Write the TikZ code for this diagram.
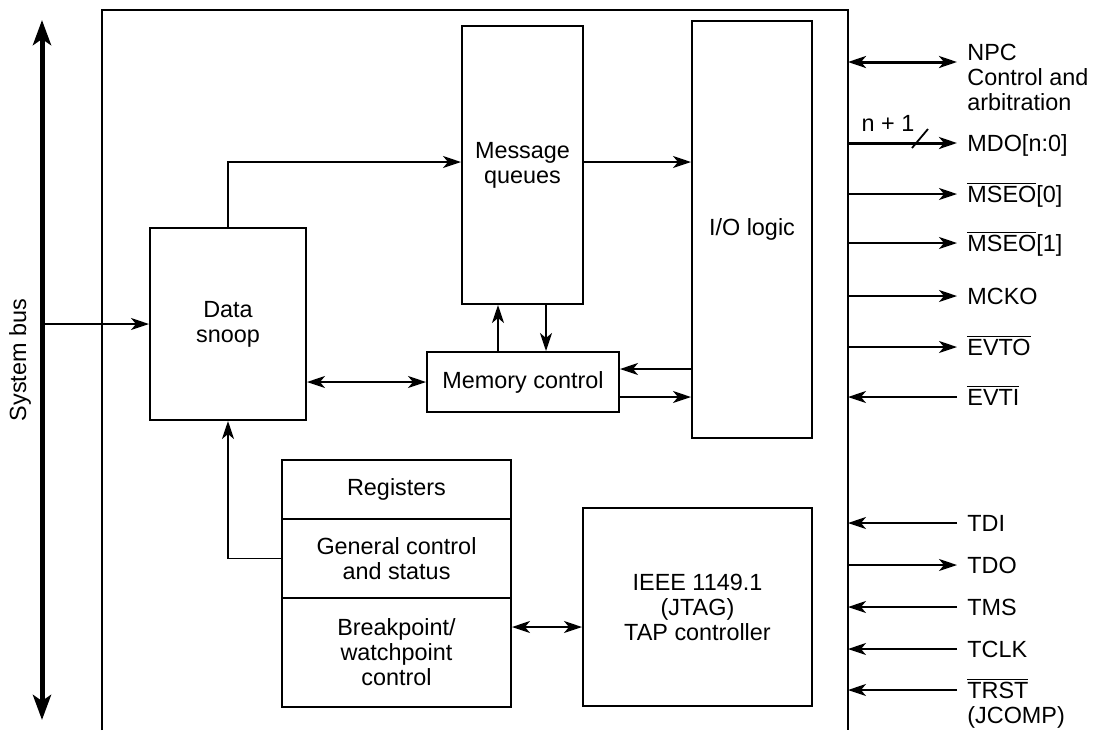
\documentclass[tikz,border=0pt]{standalone}
\usepackage{fontspec}
\setmainfont{Liberation Sans}
\usetikzlibrary{arrows.meta,calc}
\newcommand\ovl[1]{$\overline{\mbox{#1}}$}
\begin{document}
\begin{tikzpicture}[x=0.5pt,y=-0.5pt,
  every node/.style={font=\fontsize{11.7}{12.5}\selectfont},
  box/.style={draw, line width=1pt, inner sep=0pt, align=center},
  conn/.style={line width=0.9pt},
  wide/.style={line width=1.5pt},
  >={Stealth[length=9pt,width=6pt,inset=2.5pt]},
  bigtip/.tip={Stealth[length=12.5pt,width=9pt,inset=3pt]},
  sig/.style={anchor=west, inner xsep=5pt, inner ysep=0pt, text height=8.3pt, text depth=0pt, align=left}
]
\useasboundingbox (0,0) rectangle (1094,730);

% system bus
\coordinate (busT) at (42,20);
\coordinate (busB) at (42,720);
\draw[line width=2.5pt, bigtip-bigtip] (busT) -- (busB);
\node[rotate=90] (buslbl) at (20,360) {System bus};

% module frame (open at the bottom)
\coordinate (fBL) at (102,730);
\coordinate (fTL) at (102,10);
\coordinate (fTR) at (848,10);
\coordinate (fBR) at (848,730);
\draw[line width=1pt] (fBL) -- (fTL) -- (fTR) -- (fBR);

% blocks
\node[box, minimum width=60.5pt, minimum height=139pt] (mq) at (522.5,165) {Message\\queues};
\node[box, minimum width=60pt, minimum height=208.5pt] (io) at (752,229.5) {I/O logic};
\node[box, minimum width=78pt, minimum height=96pt] (ds) at (228,324) {Data\\snoop};
\node[box, minimum width=96pt, minimum height=30pt] (mem) at (523,382) {Memory control};
\node[box, minimum width=114.5pt, minimum height=29.5pt] (reg) at (396.5,489.5) {Registers};
\node[box, minimum width=114.5pt, minimum height=39.5pt] (gcs) at (396.5,558.5) {General control\\and status};
\node[box, minimum width=114.5pt, minimum height=54.5pt] (bwc) at (396.5,652.5) {Breakpoint/\\watchpoint\\control};
\node[box, minimum width=114.5pt, minimum height=99pt] (tap) at (697.5,607) {IEEE 1149.1\\(JTAG)\\TAP controller};

% internal connectors
\coordinate (busDS) at (42,324);
\draw[conn,->] (busDS) -- (ds.west);
\coordinate (dsq) at (228,162);
\draw[conn,->] (ds.north) -- (dsq) -- (dsq -| mq.west);
\coordinate (qio) at (583,162);
\draw[conn,->] (qio) -- (qio -| io.west);
\draw[conn,<->] (mem.west -| ds.east) -- (mem.west);
\coordinate (mu) at ([xshift=36pt]mem.north west);
\coordinate (md) at ([xshift=60pt]mem.north west);
\draw[conn,->] (mu) -- (mu |- mq.south);
\draw[conn,->] (md |- mq.south) -- (md);
\coordinate (mi) at ([yshift=6.5pt]mem.east);
\coordinate (mo) at ([yshift=-7.5pt]mem.east);
\draw[conn,->] (mi -| io.west) -- (mi);
\draw[conn,->] (mo) -- (mo -| io.west);
\draw[conn,->] (gcs.west) -| (ds.south);
\coordinate (bi) at ([yshift=-15pt]bwc.north east);
\draw[conn,<->] (bi) -- (bi -| tap.west);

% right-hand signals
\coordinate (npcL) at (848,62);
\coordinate (npcR) at (957,62);
\draw[wide,<->] (npcL) -- (npcR);
\node[anchor=west, inner xsep=5pt, align=left] (npc) at (957,77) {NPC\\Control and\\arbitration};

\node[sig] (mdo) at (957,143) {MDO[n:0]};
\coordinate (mdoL) at (848,143);
\draw[wide,->] (mdoL) -- (mdo.west);
\coordinate (slA) at (912,148);
\coordinate (slB) at (928,129);
\draw[conn] (slA) -- (slB);
\node (nw) at (888,123) {n + 1};

\node[sig] (mseo0) at (957,194) {\ovl{MSEO}[0]};
\coordinate (mseo0L) at (848,194);
\draw[conn,->] (mseo0L) -- (mseo0.west);

\node[sig] (mseo1) at (957,243) {\ovl{MSEO}[1]};
\coordinate (mseo1L) at (848,243);
\draw[conn,->] (mseo1L) -- (mseo1.west);

\node[sig] (mcko) at (957,296) {MCKO};
\coordinate (mckoL) at (848,296);
\draw[conn,->] (mckoL) -- (mcko.west);

\node[sig] (evto) at (957,347) {\ovl{EVTO}};
\coordinate (evtoL) at (848,347);
\draw[conn,->] (evtoL) -- (evto.west);

\node[sig] (evti) at (957,397) {\ovl{EVTI}};
\coordinate (evtiL) at (848,397);
\draw[conn,->] (evti.west) -- (evtiL);

\node[sig] (tdi) at (957,523) {TDI};
\coordinate (tdiL) at (848,523);
\draw[conn,->] (tdi.west) -- (tdiL);

\node[sig] (tdo) at (957,565) {TDO};
\coordinate (tdoL) at (848,565);
\draw[conn,->] (tdoL) -- (tdo.west);

\node[sig] (tms) at (957,607) {TMS};
\coordinate (tmsL) at (848,607);
\draw[conn,->] (tms.west) -- (tmsL);

\node[sig] (tclk) at (957,649) {TCLK};
\coordinate (tclkL) at (848,649);
\draw[conn,->] (tclk.west) -- (tclkL);

\node[sig] (trst) at (957,690) {\ovl{TRST}};
\coordinate (trstL) at (848,690);
\draw[conn,->] (trst.west) -- (trstL);
\node[sig] (jcomp) at (957,715) {(JCOMP)};
\end{tikzpicture}
\end{document}
